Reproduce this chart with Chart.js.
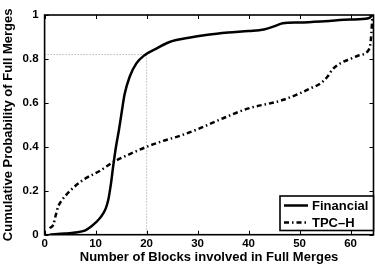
<!DOCTYPE html>
<html>
<head>
<meta charset="utf-8">
<script src="https://cdn.jsdelivr.net/npm/chart.js@4.4.1/dist/chart.umd.min.js"></script>
<style>
html,body{margin:0;padding:0;background:#fff;}
#wrap{width:375px;height:269px;position:relative;}
</style>
</head>
<body>
<div id="wrap"><canvas id="c" width="375" height="269"></canvas></div>
<script>
// ---- data ----
const financialX = [1, 4, 6, 8, 9, 10, 11, 12, 12.5, 13, 13.5, 14, 14.6, 15.2, 15.7, 16.7, 18, 19.6, 22, 24.5, 28, 32, 36, 40, 43, 45, 46.7, 50, 55, 60, 63.5, 64.3];
const financialY = [0, 0.005, 0.01, 0.02, 0.035, 0.055, 0.08, 0.12, 0.16, 0.23, 0.32, 0.4, 0.48, 0.57, 0.64, 0.72, 0.78, 0.817, 0.848, 0.877, 0.895, 0.91, 0.92, 0.927, 0.934, 0.948, 0.962, 0.966, 0.972, 0.979, 0.985, 1.0];
const tpchX = [1, 1.7, 2.2, 2.7, 3.5, 5, 7.6, 10.8, 13.4, 17, 20, 23, 26.5, 30, 35, 40, 46.3, 50, 52, 54.2, 55.5, 56.6, 58.5, 60, 61.7, 63.7, 64.0, 64.3];
const tpchY = [0.03, 0.045, 0.09, 0.13, 0.16, 0.2, 0.25, 0.29, 0.33, 0.37, 0.40, 0.425, 0.45, 0.48, 0.53, 0.575, 0.61, 0.643, 0.665, 0.69, 0.72, 0.756, 0.786, 0.80, 0.817, 0.847, 0.893, 1.0];
const markerX = [0, 20, 20];
const markerY = [0.82, 0.82, 0];
const seriesNames = ['Financial', 'TPC\u2013H'];
const xTicks = [0, 10, 20, 30, 40, 50, 60];
const yTickLabels = ['0', '0.2', '0.4', '0.6', '0.8', '1'];
const xTitle = 'Number of Blocks involved in Full Merges';
const yTitle = 'Cumulative Probability of Full Merges';

const FONT = '"Liberation Sans", Arial, Helvetica, sans-serif';
const toPts = (xs, ys) => xs.map((x, i) => ({x: x, y: ys[i]}));

const framePlugin = {
  id: 'frame',
  afterDatasetsDraw(chart) {
    const {ctx, chartArea: a, scales} = chart;
    ctx.save();
    ctx.strokeStyle = '#000';
    ctx.lineWidth = 1.6;
    ctx.strokeRect(a.left, a.top, a.right - a.left, a.bottom - a.top);
    ctx.lineWidth = 1;
    const tl = 4;
    xTicks.forEach(v => {
      const px = Math.round(scales.x.getPixelForValue(v)) + 0.5;
      ctx.beginPath();
      ctx.moveTo(px, a.bottom); ctx.lineTo(px, a.bottom - tl);
      ctx.moveTo(px, a.top); ctx.lineTo(px, a.top + tl);
      ctx.stroke();
    });
    yTickLabels.forEach(l => {
      const py = Math.round(scales.y.getPixelForValue(parseFloat(l))) + 0.5;
      ctx.beginPath();
      ctx.moveTo(a.left, py); ctx.lineTo(a.left + tl, py);
      ctx.moveTo(a.right, py); ctx.lineTo(a.right - tl, py);
      ctx.stroke();
    });
    // legend box
    const bx = 280, by = 196, bw = a.right - 280, bh = 34.5;
    ctx.fillStyle = '#fff';
    ctx.fillRect(bx, by, bw, bh);
    ctx.lineWidth = 1.6;
    ctx.strokeRect(bx, by, bw, bh);
    ctx.font = 'bold 13px ' + FONT;
    ctx.textBaseline = 'middle';
    ctx.fillStyle = '#000';
    const rows = [205.5, 222.5];
    [0, 1].forEach(i => {
      const ds = chart.data.datasets[i];
      ctx.beginPath();
      ctx.lineWidth = ds.borderWidth;
      ctx.setLineDash(ds.borderDash || []);
      ctx.moveTo(284, rows[i]); ctx.lineTo(308, rows[i]);
      ctx.stroke();
      ctx.setLineDash([]);
      ctx.fillText(ds.label, 312, rows[i] + 0.5);
    });
    ctx.restore();
  }
};

new Chart(document.getElementById('c'), {
  type: 'line',
  data: {
    datasets: [
      {label: seriesNames[0], data: toPts(financialX, financialY), borderColor: '#000', borderWidth: 2.5, pointRadius: 0, cubicInterpolationMode: 'monotone', fill: false},
      {label: seriesNames[1], data: toPts(tpchX, tpchY), borderColor: '#000', borderWidth: 2.5, borderDash: [5, 3, 1.5, 3], pointRadius: 0, cubicInterpolationMode: 'monotone', fill: false},
      {label: 'marker', data: toPts(markerX, markerY), borderColor: '#999', borderWidth: 1, borderDash: [1, 2], pointRadius: 0, tension: 0, fill: false}
    ]
  },
  options: {
    responsive: false,
    animation: false,
    events: [],
    layout: {padding: {top: 15, right: 1.5, left: 0, bottom: 0}},
    plugins: {legend: {display: false}, tooltip: {enabled: false}},
    scales: {
      x: {
        type: 'linear', min: 0, max: 64.5,
        afterFit: s => { s.height = 34.3; },
        afterBuildTicks: s => { s.ticks = xTicks.map(v => ({value: v})); },
        grid: {display: false, drawTicks: false},
        border: {display: false},
        ticks: {color: '#000', padding: 2.5, maxRotation: 0, font: {family: FONT, size: 11.5, weight: 'bold'}, callback: v => String(v)},
        title: {display: true, text: xTitle, color: '#000', padding: {top: 0, bottom: 4}, font: {family: FONT, size: 13, weight: 'bold'}}
      },
      y: {
        type: 'linear', min: 0, max: 1,
        afterFit: s => { s.width = 44.6; },
        afterBuildTicks: s => { s.ticks = yTickLabels.map(l => ({value: parseFloat(l)})); },
        grid: {display: false, drawTicks: false},
        border: {display: false},
        ticks: {color: '#000', padding: 6, font: {family: FONT, size: 11.5, weight: 'bold'}, callback: (v, i) => yTickLabels[i]},
        title: {display: true, text: yTitle, color: '#000', padding: {top: 1, bottom: 0}, font: {family: FONT, size: 13, weight: 'bold'}}
      }
    }
  },
  plugins: [framePlugin]
});
</script>
</body>
</html>
